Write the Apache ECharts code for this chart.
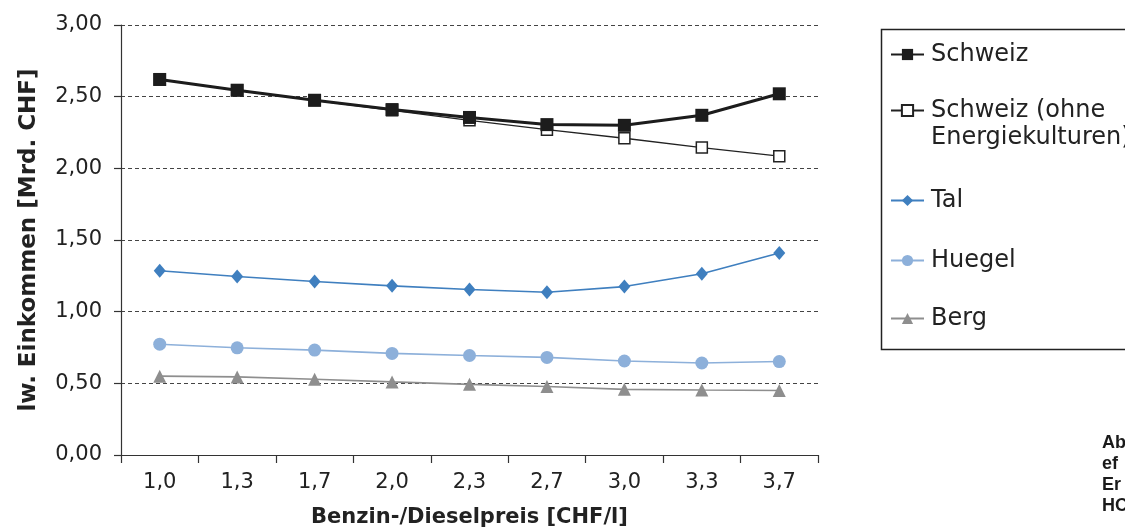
<!DOCTYPE html>
<html>
<head>
<meta charset="utf-8">
<script src="https://cdn.jsdelivr.net/npm/echarts@6/dist/echarts.min.js"></script>
<style>
html,body{margin:0;padding:0;background:#fff;}
#c{width:1125px;height:529px;}
</style>
</head>
<body>
<div id="c"></div>
<script>
const categories = ['1,0','1,3','1,7','2,0','2,3','2,7','3,0','3,3','3,7'];
const schweiz = [2.62, 2.545, 2.475, 2.41, 2.355, 2.305, 2.30, 2.37, 2.52];
const schweizOhne = [2.62, 2.545, 2.475, 2.405, 2.335, 2.27, 2.21, 2.145, 2.085];
const tal = [1.285, 1.245, 1.21, 1.18, 1.155, 1.135, 1.175, 1.265, 1.41];
const huegel = [0.773, 0.748, 0.732, 0.709, 0.694, 0.681, 0.656, 0.642, 0.652];
const berg = [0.55, 0.545, 0.528, 0.51, 0.493, 0.478, 0.458, 0.453, 0.450];
const yTicks = [0, 0.5, 1, 1.5, 2, 2.5, 3];
const names = ['Schweiz', 'Schweiz (ohne Energiekulturen)', 'Tal', 'Huegel', 'Berg'];

const FONT = "'DejaVu Sans', 'Liberation Sans', Arial, sans-serif";
const chart = echarts.init(document.getElementById('c'), null, {renderer: 'canvas'});

function legendItem(name, top) {
  return {
    data: [name],
    orient: 'vertical',
    left: 890,
    top: top,
    itemWidth: 33,
    itemHeight: 14,
    itemGap: 0,
    padding: 0,
    selectedMode: false,
    textStyle: {fontFamily: FONT, fontSize: 24, color: '#222', padding: [0, 0, 0, 2], lineHeight: 27},
    formatter: function (n) {
      if (n === names[1]) return '\nSchweiz (ohne\nEnergiekulturen)';
      return n;
    }
  };
}

const option = {
  backgroundColor: '#fff',
  animation: false,
  textStyle: {fontFamily: FONT},
  grid: {left: 121, top: 25, right: 307, bottom: 74, containLabel: false, outerBoundsMode: 'none'},
  legend: [
    legendItem(names[0], 41),
    legendItem(names[1], 70),
    legendItem(names[2], 187),
    legendItem(names[3], 247),
    legendItem(names[4], 305)
  ],
  xAxis: {
    type: 'category',
    data: categories,
    boundaryGap: true,
    name: 'Benzin-/Dieselpreis [CHF/l]',
    nameLocation: 'middle',
    nameGap: 52,
    nameTextStyle: {fontFamily: FONT, fontSize: 21, fontWeight: 'bold', color: '#222'},
    axisLine: {lineStyle: {color: '#333', width: 1.2}},
    axisTick: {show: true, length: 8, lineStyle: {color: '#333', width: 1.2}},
    axisLabel: {fontFamily: FONT, fontSize: 21, color: '#222', margin: 17},
    splitLine: {show: false}
  },
  yAxis: {
    type: 'value',
    min: 0,
    max: 3,
    interval: 0.5,
    name: 'lw. Einkommen [Mrd. CHF]',
    nameLocation: 'middle',
    nameGap: 80,
    nameTextStyle: {fontFamily: FONT, fontSize: 23, fontWeight: 'bold', color: '#222'},
    axisLine: {show: true, lineStyle: {color: '#333', width: 1.2}},
    axisTick: {show: true, length: 7, lineStyle: {color: '#333', width: 1.2}},
    axisLabel: {
      fontFamily: FONT, fontSize: 21, color: '#222', margin: 19,
      formatter: function (v) {
        const t = yTicks.find(x => Math.abs(x - v) < 1e-9);
        return (t !== undefined ? t : v).toFixed(2).replace('.', ',');
      }
    },
    splitLine: {show: true, lineStyle: {color: '#444', width: 1, type: [4, 3]}}
  },
  series: [
    {
      name: names[1], type: 'line', data: schweizOhne, z: 3,
      symbol: 'rect', symbolSize: 11,
      lineStyle: {color: '#222', width: 1.3},
      itemStyle: {color: '#fff', borderColor: '#222', borderWidth: 1.5}
    },
    {
      name: names[0], type: 'line', data: schweiz, z: 4,
      symbol: 'rect', symbolSize: 13,
      lineStyle: {color: '#1c1c1c', width: 3},
      itemStyle: {color: '#1c1c1c', borderColor: '#1c1c1c', borderWidth: 0}
    },
    {
      name: names[2], type: 'line', data: tal, z: 3,
      symbol: 'diamond', symbolSize: [12, 14],
      lineStyle: {color: '#3f7fbf', width: 1.6},
      itemStyle: {color: '#3f7fbf', borderWidth: 0}
    },
    {
      name: names[3], type: 'line', data: huegel, z: 3,
      symbol: 'circle', symbolSize: 13,
      lineStyle: {color: '#8db0da', width: 1.6},
      itemStyle: {color: '#8db0da', borderWidth: 0}
    },
    {
      name: names[4], type: 'line', data: berg, z: 3,
      symbol: 'triangle', symbolSize: 13,
      lineStyle: {color: '#8e8e8e', width: 1.6},
      itemStyle: {color: '#8e8e8e', borderWidth: 0}
    }
  ],
  graphic: [
    {type: 'rect', left: 879, top: 27, z: -1, shape: {x: 0, y: 0, width: 260, height: 320},
     style: {fill: 'none', stroke: '#222', lineWidth: 1.5}},
    {type: 'text', left: 1102, top: 434, style: {text: 'Ab', font: "bold 18px 'Liberation Sans', Arial, sans-serif", fill: '#1a1a1a'}},
    {type: 'text', left: 1102, top: 455, style: {text: 'ef', font: "bold 18px 'Liberation Sans', Arial, sans-serif", fill: '#1a1a1a'}},
    {type: 'text', left: 1102, top: 476, style: {text: 'Er', font: "bold 18px 'Liberation Sans', Arial, sans-serif", fill: '#1a1a1a'}},
    {type: 'text', left: 1102, top: 497, style: {text: 'HC', font: "bold 18px 'Liberation Sans', Arial, sans-serif", fill: '#1a1a1a'}}
  ]
};
chart.setOption(option);
</script>
</body>
</html>
